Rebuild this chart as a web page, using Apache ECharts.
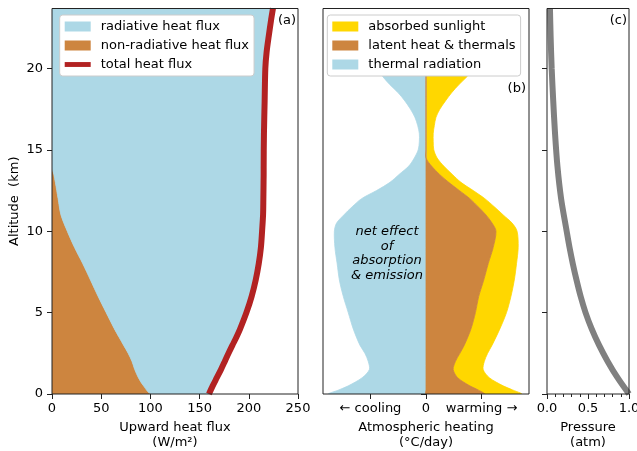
<!DOCTYPE html>
<html>
<head>
<meta charset="utf-8">
<script src="https://cdn.jsdelivr.net/npm/echarts@6/dist/echarts.min.js"></script>
<style>
  html, body { margin: 0; padding: 0; background: #fff; }
  #chart { width: 637px; height: 451px; }
</style>
</head>
<body>
<div id="chart"></div>
<script>
// ---- (a) upward heat flux (W/m²) by altitude (km) ----
const altA = [0, 0.5, 1, 1.5, 2, 2.5, 3, 3.5, 4, 5, 6, 7, 8, 9, 10, 11, 12, 13, 13.5, 13.9, 16, 18, 20, 21, 22, 23, 23.7];
const nonRadiativeFlux = [101, 93, 87.8, 84.1, 81.3, 77.4, 72.7, 68, 63.4, 55, 46.8, 39.1, 31.3, 22.9, 15.5, 9.1, 6.2, 3.4, 1.8, 0, 0, 0, 0, 0, 0, 0, 0];
const totalFlux = [159.5, 163.3, 167.5, 171.7, 175.6, 179.4, 183.4, 187.5, 191.2, 197.6, 202.9, 207, 210.1, 212.3, 213.5, 214.5, 214.8, 215.0, 215.1, 215.1, 215.4, 216.1, 216.8, 218.1, 220.3, 222.7, 224.6];

// ---- (b) atmospheric heating rates (°C/day) by altitude (km) ----
const altB = [0, 0.25, 0.5, 1, 1.5, 2, 2.5, 3, 4, 5, 6, 7, 8, 9, 10, 10.5, 11, 11.5, 12, 12.5, 13, 13.5, 14, 14.5, 15, 15.5, 16, 16.5, 17, 17.5, 18, 18.5, 19, 19.5, 20, 21];
const thermalRadiation = [-1.75, -1.57, -1.40, -1.15, -1.02, -1.04, -1.10, -1.19, -1.31, -1.40, -1.49, -1.56, -1.60, -1.64, -1.65, -1.61, -1.48, -1.33, -1.16, -0.89, -0.65, -0.48, -0.31, -0.21, -0.14, -0.12, -0.12, -0.15, -0.20, -0.28, -0.38, -0.50, -0.65, -0.78, -0.88, -1.0];
const latentHeat = [1.05, 0.94, 0.79, 0.57, 0.49, 0.53, 0.61, 0.69, 0.81, 0.89, 0.95, 1.04, 1.12, 1.21, 1.26, 1.19, 1.08, 0.94, 0.79, 0.60, 0.41, 0.24, 0.10, 0, 0, 0, 0, 0, 0, 0, 0, 0, 0, 0, 0, 0];
const absorbedSunlight = [0.67, 0.62, 0.60, 0.57, 0.54, 0.52, 0.50, 0.50, 0.52, 0.56, 0.58, 0.55, 0.51, 0.45, 0.38, 0.36, 0.31, 0.29, 0.27, 0.25, 0.22, 0.23, 0.22, 0.20, 0.14, 0.13, 0.13, 0.15, 0.18, 0.25, 0.35, 0.46, 0.59, 0.74, 0.85, 1.0];

// ---- (c) pressure (atm) by altitude (km) ----
const altP = [0, 1, 2, 3, 4, 5, 6, 7, 8, 9, 10, 12, 14, 16, 18, 20, 22, 23.7];
const pressure = [1.0, 0.86, 0.74, 0.635, 0.545, 0.47, 0.41, 0.36, 0.315, 0.275, 0.24, 0.172, 0.127, 0.098, 0.076, 0.057, 0.044, 0.036];

// ---- axis ticks ----
const altTicks = [0, 5, 10, 15, 20];
const heatingTicks = [-1, 0, 1];
const heatingTickLabels = ['← cooling', '0', 'warming →'];

const FONT = 'DejaVu Sans';
const INK = '#222';
const C_RAD = '#add8e6', C_NONRAD = '#cd853f', C_TOTAL = '#b22222', C_SUN = '#ffd700', C_P = '#808080';

// filled region between two boundary curves x = lo(z) and x = hi(z)
function band(name, color, gi, alt, lo, hi, z) {
  const data = alt.map((a, i) => [lo[i], hi[i], a]);
  return {
    type: 'custom', name, coordinateSystem: 'cartesian2d',
    xAxisIndex: gi, yAxisIndex: gi, clip: true, silent: true, z: z || 2,
    itemStyle: { color },
    encode: { x: [0, 1], y: 2 },
    data,
    renderItem(params, api) {
      if (params.dataIndexInside !== 0) return;
      const left = [], right = [];
      for (let i = 0; i < data.length; i++) {
        const a = api.value(2, i);
        left.push(api.coord([api.value(0, i), a]));
        right.push(api.coord([api.value(1, i), a]));
      }
      return {
        type: 'polygon',
        shape: { points: left.concat(right.reverse()), smooth: 0.3 },
        style: { fill: color, stroke: color, lineWidth: 0.8 }
      };
    }
  };
}

const zeros = altA.map(() => 0);
const zerosB = altB.map(() => 0);
const warmTop = altB.map((a, i) => latentHeat[i] + absorbedSunlight[i]);

const TOP = 8.5, HEIGHT = 385.5;
const grids = [
  { left: 52, top: TOP, width: 246, height: HEIGHT },
  { left: 323, top: TOP, width: 206, height: HEIGHT },
  { left: 547, top: TOP, width: 82, height: HEIGHT }
].map(g => Object.assign(g, { show: true, z: 5, borderColor: INK, borderWidth: 1, backgroundColor: 'transparent', containLabel: false, outerBoundsMode: 'none' }));

const tickStyle = { show: true, length: 5, inside: false, lineStyle: { color: INK, width: 1 } };
const labelStyle = { fontSize: 13, color: '#000', fontFamily: FONT };
const nameStyle = { fontSize: 13, color: '#000', fontFamily: FONT, lineHeight: 15 };

const yAxes = [0, 1, 2].map(i => ({
  type: 'value', gridIndex: i, min: 0, max: 23.68,
  axisLine: { show: false }, splitLine: { show: false },
  axisTick: Object.assign({}, tickStyle, { customValues: altTicks }),
  axisLabel: Object.assign({}, labelStyle, { show: i === 0, margin: 9, customValues: altTicks }),
  name: i === 0 ? 'Altitude  (km)' : '', nameLocation: 'middle', nameGap: 30, nameTextStyle: nameStyle
}));

const xAxes = [
  {
    type: 'value', gridIndex: 0, min: 0, max: 250, interval: 50,
    axisLine: { show: false }, splitLine: { show: false }, axisTick: tickStyle,
    axisLabel: Object.assign({}, labelStyle, { margin: 8 }),
    name: 'Upward heat flux\n(W/m²)', nameLocation: 'middle', nameGap: 25, nameTextStyle: nameStyle
  },
  {
    type: 'value', gridIndex: 1, min: -1.855, max: 1.855,
    axisLine: { show: false }, splitLine: { show: false },
    axisTick: Object.assign({}, tickStyle, { customValues: heatingTicks }),
    axisLabel: Object.assign({}, labelStyle, {
      margin: 8, customValues: heatingTicks,
      formatter: v => heatingTickLabels[heatingTicks.indexOf(Math.round(v))]
    }),
    name: 'Atmospheric heating\n(°C/day)', nameLocation: 'middle', nameGap: 25, nameTextStyle: nameStyle
  },
  {
    type: 'value', gridIndex: 2, min: 0, max: 1, interval: 0.5,
    axisLine: { show: false }, splitLine: { show: false }, axisTick: tickStyle,
    minorTick: { show: true, splitNumber: 5, length: 3, lineStyle: { color: INK, width: 1 } },
    minorSplitLine: { show: false },
    axisLabel: Object.assign({}, labelStyle, { margin: 8, formatter: v => v.toFixed(1) }),
    name: 'Pressure\n(atm)', nameLocation: 'middle', nameGap: 25, nameTextStyle: nameStyle
  }
];

const legendBase = {
  orient: 'vertical', itemWidth: 26, itemHeight: 10, itemGap: 6, padding: 5,
  backgroundColor: '#fff', borderColor: '#cccccc', borderWidth: 1, borderRadius: 3,
  selectedMode: false, itemStyle: { borderWidth: 0 },
  textStyle: { fontSize: 13, color: '#000', fontFamily: FONT, padding: [0, 0, 0, 5] }
};

const series = [
  band('non-radiative heat flux', C_NONRAD, 0, altA, zeros, nonRadiativeFlux, 2),
  band('radiative heat flux', C_RAD, 0, altA, nonRadiativeFlux, totalFlux, 2),
  {
    type: 'line', name: 'total heat flux', xAxisIndex: 0, yAxisIndex: 0,
    data: altA.map((a, i) => [totalFlux[i], a]),
    smooth: 0.3, showSymbol: false, clip: true, silent: true, z: 3,
    lineStyle: { color: C_TOTAL, width: 6 }, itemStyle: { color: C_TOTAL }
  },
  band('absorbed sunlight', C_SUN, 1, altB, latentHeat, warmTop, 2),
  band('thermal radiation', C_RAD, 1, altB, thermalRadiation, zerosB, 2),
  band('latent heat & thermals', C_NONRAD, 1, altB, zerosB, latentHeat, 2.5),
  {
    type: 'line', name: 'pressure', xAxisIndex: 2, yAxisIndex: 2,
    data: altP.map((a, i) => [pressure[i], a]),
    smooth: 0.3, showSymbol: false, clip: true, silent: true, z: 3,
    lineStyle: { color: C_P, width: 6 }, itemStyle: { color: C_P }
  }
];

function label(text, x, y, align, extra) {
  return {
    type: 'text', x, y, z: 10, silent: true,
    style: Object.assign({ text, fill: '#000', font: '13px "DejaVu Sans"', align, verticalAlign: 'middle' }, extra || {})
  };
}

const chart = echarts.init(document.getElementById('chart'), null, { renderer: 'canvas' });
chart.setOption({
  animation: false,
  backgroundColor: '#fff',
  grid: grids,
  xAxis: xAxes,
  yAxis: yAxes,
  legend: [
    Object.assign({}, legendBase, {
      left: 59.7, top: 15,
      data: [
        { name: 'radiative heat flux', icon: 'rect' },
        { name: 'non-radiative heat flux', icon: 'rect' },
        { name: 'total heat flux', icon: 'path://M0,0H32V6H0Z' }
      ]
    }),
    Object.assign({}, legendBase, {
      left: 327.3, top: 15,
      data: [
        { name: 'absorbed sunlight', icon: 'rect' },
        { name: 'latent heat & thermals', icon: 'rect' },
        { name: 'thermal radiation', icon: 'rect' }
      ]
    })
  ],
  graphic: [
    label('(a)', 296, 21, 'right'),
    label('(b)', 526, 88.5, 'right'),
    label('(c)', 627, 21, 'right'),
    label('net effect\nof\nabsorption\n& emission', 387, 253.5, 'center',
      { font: 'italic 13px "DejaVu Sans"', lineHeight: 14.7 })
  ],
  series
});
</script>
</body>
</html>
